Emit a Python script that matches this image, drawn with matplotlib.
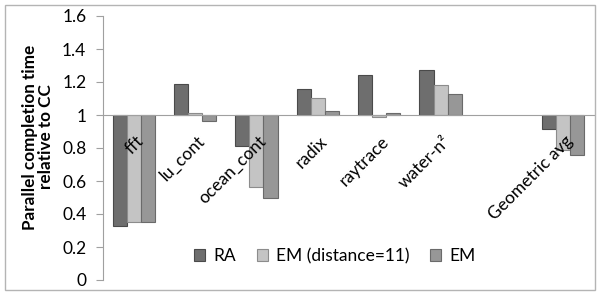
import numpy as np
import matplotlib
matplotlib.use("Agg")
import matplotlib.pyplot as plt
from matplotlib.patches import Rectangle
from matplotlib.transforms import ScaledTranslation

plt.rcParams['font.family'] = ['Lato', 'DejaVu Sans']

# benchmark names (empty slot before the average, as in the original sheet)
categories = ['fft', 'lu_cont', 'ocean_cont', 'radix', 'raytrace', 'water-n\u00b2', '', 'Geometric avg']
ra = [0.33, 1.19, 0.81, 1.155, 1.24, 1.27, np.nan, 0.915]
em11 = [0.35, 1.01, 0.565, 1.105, 0.99, 1.18, np.nan, 0.79]
em = [0.35, 0.966, 0.495, 1.025, 1.015, 1.13, np.nan, 0.76]
yticks = [0, 0.2, 0.4, 0.6, 0.8, 1, 1.2, 1.4, 1.6]

fs = 12.5

fig = plt.figure(figsize=(5.97, 2.93), dpi=100)
ax = fig.add_axes([103/597, 1-280/293, 491/597, 264/293])

x = np.arange(len(categories))
w = 0.23
series = [(ra, 'RA', '#6e6e6e', '#4a4a4a'),
          (em11, 'EM (distance=11)', '#c4c4c4', '#8c8c8c'),
          (em, 'EM', '#979797', '#6a6a6a')]
for i, (vals, lab, fc, ec) in enumerate(series):
    v = np.array(vals, dtype=float)
    ax.bar(x + (i-1)*w, v - 1, w, bottom=1, color=fc, edgecolor=ec, linewidth=0.8, label=lab)

ax.set_xlim(-0.5, len(categories)-0.5)
ax.set_ylim(0, 1.6)
ax.set_yticks(yticks)
ax.set_yticklabels([f"{t:g}" for t in yticks], fontsize=fs)
ax.tick_params(axis='y', length=5, color='#a0a0a0', pad=7)

ax.spines['top'].set_visible(False)
ax.spines['right'].set_visible(False)
ax.spines['left'].set_color('#a0a0a0')
ax.spines['bottom'].set_position(('data', 1))
ax.spines['bottom'].set_color('#a0a0a0')

ax.set_xticks(x)
ax.set_xticklabels(categories, rotation=45, ha='right', va='center',
                   rotation_mode='anchor', fontsize=fs)
ax.tick_params(axis='x', length=0, pad=12)
shift = ScaledTranslation(7/100, -7/100, fig.dpi_scale_trans)
for lbl in ax.get_xticklabels():
    lbl.set_transform(lbl.get_transform() + shift)

fig.text(38/597, 1-137/293, 'Parallel completion time\nrelative to CC', rotation=90,
         ha='center', va='center', multialignment='center', fontsize=12.3,
         fontweight='bold', linespacing=1.05)

ax.legend(loc='center', bbox_to_anchor=(0.472, 0.091), ncol=3, frameon=False, fontsize=fs,
          handlelength=0.65, handleheight=0.65, handletextpad=0.45, columnspacing=1.2)

fig.patches.append(Rectangle((5/597, 3/293), 590/597, 285/293, transform=fig.transFigure,
                             fill=False, edgecolor='#b4b4b4', linewidth=1))

fig.savefig('out.png', dpi=100)
